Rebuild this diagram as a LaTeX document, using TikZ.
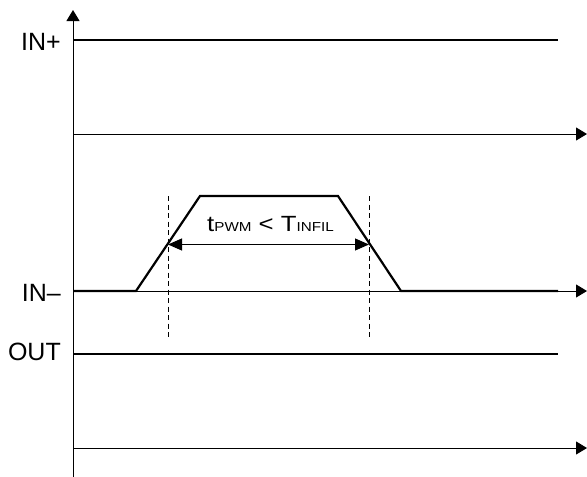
\documentclass[tikz,border=0pt]{standalone}
\usepackage{fontspec}
\setmainfont{Liberation Sans}
\usetikzlibrary{arrows.meta}
\newcommand{\subtxt}[1]{{\fontsize{13}{16}\selectfont #1}}
\begin{document}
\begin{tikzpicture}[x=1pt,y=-1pt,
  axisline/.style={line width=1pt,-{Triangle[length=11pt,width=13pt]}},
  sigline/.style={line width=2.2pt,line join=miter},
  guide/.style={line width=0.8pt,dash pattern=on 5pt off 3.5pt},
  dimline/.style={line width=1pt,{Triangle[length=14pt,width=12pt]}-{Triangle[length=14pt,width=12pt]}},
  lbl/.style={inner sep=0pt,font=\fontsize{25}{30}\selectfont},
  tlbl/.style={inner sep=0pt,font=\fontsize{22}{26}\selectfont}]
\useasboundingbox (0,0) rectangle (587,477);
% axes
\coordinate (vbot) at (73,477);
\coordinate (vtop) at (73,10);
\draw[axisline] (vbot) -- (vtop);
\coordinate (a1s) at (73,134); \coordinate (a1e) at (587,134);
\coordinate (a2s) at (73,291); \coordinate (a2e) at (587,291);
\coordinate (a3s) at (73,448); \coordinate (a3e) at (587,448);
\draw[axisline] (a1s) -- (a1e);
\draw[axisline] (a2s) -- (a2e);
\draw[axisline] (a3s) -- (a3e);
% signals
\coordinate (p1) at (73,40); \coordinate (p2) at (558,40);
\draw[sigline] (p1) -- (p2);
\coordinate (n0) at (73,291); \coordinate (n1) at (136,291);
\coordinate (n2) at (200,196); \coordinate (n3) at (338,196);
\coordinate (n4) at (401,291); \coordinate (n5) at (558,291);
\draw[sigline] (n0) -- (n1) -- (n2) -- (n3) -- (n4) -- (n5);
\coordinate (o1) at (73,354); \coordinate (o2) at (558,354);
\draw[sigline] (o1) -- (o2);
% guides
\coordinate (g1t) at (168,196); \coordinate (g1b) at (168,338);
\coordinate (g2t) at (369,196); \coordinate (g2b) at (369,338);
\draw[guide] (g1t) -- (g1b);
\draw[guide] (g2t) -- (g2b);
\coordinate (d1) at (168,244.5); \coordinate (d2) at (369,244.5);
\draw[dimline] (d1) -- (d2);
% labels
\node[lbl,anchor=base east] (inp) at (61,50) {IN+};
\node[lbl,anchor=base east] (inm) at (61,301.5) {IN–};
\node[lbl,anchor=base east] (out) at (61,360) {OUT};
\node[tlbl,anchor=base] (tl) at (270.5,231.5) {\scalebox{1.17}[1]{t\subtxt{PWM} < T\subtxt{INFIL}}};
\end{tikzpicture}
\end{document}
